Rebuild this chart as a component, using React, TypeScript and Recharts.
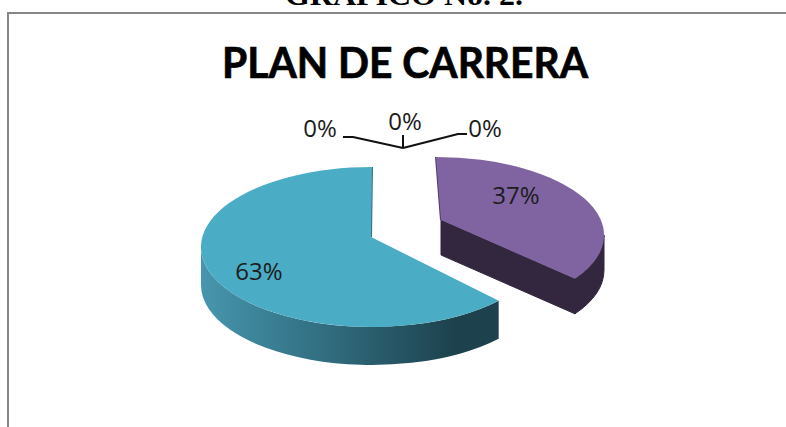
import React from 'react';
import { PieChart, Pie } from 'recharts';

const categories = ['Si', 'No', 'Otro 1', 'Otro 2', 'Otro 3'];
const values = [37, 63, 0, 0, 0];

const data = categories.map((name, i) => ({ name, value: values[i] }));

const DEG = Math.PI / 180;

// look of the two real slices, by index. The pie is squashed and pulled apart by hand
// endNudge fakes the perspective of the original 3D pie
const SLICE_STYLES: Record<number, any> = {
  0: {
    dx: 33, dy: -5, rx: 168, ry: 78, apexDx: 5, apexDy: -15, depth: 35, endNudge: 9,
    top: '#8064a2', wall: '#32273f', edge: '#4e3d63', cutFace: true,
    edgeAngle: 'start', labelDx: 80, labelDy: -41,
  },
  1: {
    dx: -31, dy: 7, rx: 171, ry: 80, apexDx: -1, apexDy: -10, depth: 38, startNudge: 1,
    top: '#4bacc6', wall: 'url(#tealWall)', edge: '#2f7186', cutFace: false,
    edgeAngle: 'end', labelDx: -113, labelDy: 23,
  },
};

// leader lines and text for the 0% slices, relative to where they all meet
const ZERO_LABELS: Record<number, any> = {
  2: { textDx: -83, textDy: -21, line: [[-60, -11], [-50, -11], [0, 0]] },
  3: { textDx: 2, textDy: -28, line: [[0, -13], [0, 0]] },
  4: { textDx: 82, textDy: -21, line: [[64, -14], [55, -14], [0, 0]] },
};

const renderSlice = (props: any) => {
  const { cx, cy, index } = props;
  const s = SLICE_STYLES[index];
  if (!s || props.startAngle === props.endAngle) return <g />;

  const startAngle = props.startAngle + (s.startNudge || 0);
  const endAngle = props.endAngle + (s.endNudge || 0);
  const ex = cx + s.dx;
  const ey = cy + s.dy;
  const pt = (a: number) => [ex + s.rx * Math.cos(a * DEG), ey - s.ry * Math.sin(a * DEG)];
  const apex = [ex + s.apexDx, ey + s.apexDy];
  const [sx, sy] = pt(startAngle);
  const [tx, ty] = pt(endAngle);
  const large = startAngle - endAngle > 180 ? 1 : 0;
  const topPath = `M${apex[0]},${apex[1]} L${sx},${sy} A${s.rx},${s.ry} 0 ${large} 1 ${tx},${ty} Z`;

  // only the front half of the rim can be seen
  const a1 = Math.min(startAngle, 0);
  const a2 = Math.max(endAngle, -180);
  const [w1x, w1y] = pt(a1);
  const [w2x, w2y] = pt(a2);
  const wallPath = `M${w1x},${w1y} A${s.rx},${s.ry} 0 0 1 ${w2x},${w2y} L${w2x},${w2y + s.depth} A${s.rx},${s.ry} 0 0 0 ${w1x},${w1y + s.depth} Z`;

  const edgePt = s.edgeAngle === 'start' ? [sx, sy] : [tx, ty];
  const seam = s.cutFace ? s.wall : 'none';

  return (
    <g>
      <path d={wallPath} fill={s.wall} stroke={seam} strokeWidth={1} />
      {s.cutFace && (
        <path
          d={`M${apex[0]},${apex[1]} L${tx},${ty} L${tx},${ty + s.depth} L${apex[0]},${apex[1] + s.depth} Z`}
          fill={s.wall}
          stroke={seam}
          strokeWidth={1}
        />
      )}
      <line x1={edgePt[0]} y1={edgePt[1]} x2={apex[0]} y2={apex[1]} stroke={s.edge} strokeWidth={2} />
      <path d={topPath} fill={s.top} />
    </g>
  );
};

const renderLabel = (props: any) => {
  const { cx, cy, percent, index } = props;
  const text = `${Math.round(percent * 100)}%`;
  const labelStyle = { fontFamily: '"Open Sans", sans-serif', fontSize: 24, fill: '#1c1c1c' };

  const zero = ZERO_LABELS[index];
  if (zero) {
    const ax = cx;
    const ay = cy - 92;
    const points = zero.line.map(([x, y]: number[]) => `${ax + x},${ay + y}`).join(' ');
    return (
      <g key={index}>
        <polyline points={points} fill="none" stroke="#111" strokeWidth={2} />
        <text x={ax + zero.textDx} y={ay + zero.textDy} textAnchor="middle" dominantBaseline="central" {...labelStyle}>
          {text}
        </text>
      </g>
    );
  }

  const s = SLICE_STYLES[index];
  return (
    <text
      key={index}
      x={cx + s.dx + s.labelDx}
      y={cy + s.dy + s.labelDy}
      textAnchor="middle"
      dominantBaseline="central"
      {...labelStyle}
    >
      {text}
    </text>
  );
};

export default function App() {
  return (
    <div style={{ position: 'absolute', left: 0, top: 0, width: 786, height: 427, background: '#fff', overflow: 'hidden' }}>
      <svg width={786} height={427} style={{ position: 'absolute', left: 0, top: 0 }}>
        <text
          x={404}
          y={5}
          textAnchor="middle"
          fontFamily='"Liberation Serif", serif'
          fontWeight="bold"
          fontSize={29}
          fill="#000"
          textLength={238}
          lengthAdjust="spacingAndGlyphs"
        >
          GRÁFICO No. 2.
        </text>
        <polyline points="8,427 8,13 786,13" fill="none" stroke="#868686" strokeWidth={2} />
        <text
          x={405}
          y={78}
          textAnchor="middle"
          fontFamily="Lato, sans-serif"
          fontWeight="bold"
          fontSize={42}
          fill="#000"
          stroke="#000"
          strokeWidth={0.7}
          textLength={366}
          lengthAdjust="spacingAndGlyphs"
        >
          PLAN DE CARRERA
        </text>
      </svg>
      <div style={{ position: 'absolute', left: 0, top: 0 }}>
        <PieChart width={786} height={427} margin={{ top: 0, right: 0, bottom: 0, left: 0 }}>
          <defs>
            <linearGradient id="tealWall" x1="0" y1="0" x2="1" y2="0">
              <stop offset="0%" stopColor="#4796ae" />
              <stop offset="45%" stopColor="#2f6a7c" />
              <stop offset="85%" stopColor="#1d424d" />
              <stop offset="100%" stopColor="#1d424d" />
            </linearGradient>
          </defs>
          <Pie
            data={data}
            dataKey="value"
            nameKey="name"
            cx={403}
            cy={240}
            outerRadius={170}
            startAngle={90}
            endAngle={-270}
            stroke="none"
            shape={renderSlice}
            label={renderLabel}
            labelLine={false}
            isAnimationActive={false}
          />
        </PieChart>
      </div>
    </div>
  );
}
